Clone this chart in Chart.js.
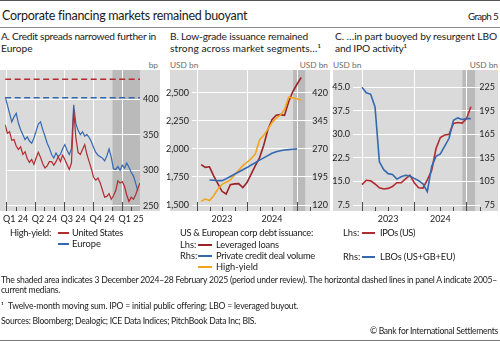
<!DOCTYPE html>
<html>
<head>
<meta charset="utf-8">
<script src="https://cdn.jsdelivr.net/npm/chart.js@4/dist/chart.umd.min.js"></script>
<style>
html, body { margin: 0; padding: 0; background: #fff; }
body { width: 500px; height: 341px; position: relative; overflow: hidden; font-family: Lato, "Open Sans", sans-serif; color: #1a1a1a; }
.t { position: absolute; white-space: nowrap; line-height: 1; }
.unit { font-size: 8.3px; color: #6b6b6b; }
.ptitle { font-size: 10.2px; line-height: 12.3px; }
.leg { font-size: 9.3px; }
.foot { font-size: 8.6px; }
.rule { position: absolute; left: 0; width: 500px; height: 1px; }
.sw { position: absolute; height: 2px; }
canvas { position: absolute; }
</style>
</head>
<body>
<div class="rule" style="top:0;background:#555"></div>
<div class="t" style="left:2px;top:10px;font-size:12.5px" data-w="245">Corporate financing markets remained buoyant</div>
<div class="t" style="left:468px;top:12px;font-size:9.8px" data-w="30">Graph 5</div>
<div class="rule" style="top:27px;background:#8c8c8c"></div>

<div class="t ptitle" style="left:1px;top:30px" data-w="155">A. Credit spreads narrowed further in</div>
<div class="t ptitle" style="left:1px;top:42.3px">Europe</div>
<div class="t ptitle" style="left:170px;top:30px" data-w="138">B. Low-grade issuance remained</div>
<div class="t ptitle" style="left:170px;top:42.3px" data-w="151">strong across market segments…¹</div>
<div class="t ptitle" style="left:335px;top:30px" data-w="162">C. …in part buoyed by resurgent LBO</div>
<div class="t ptitle" style="left:335px;top:42.3px" data-w="72">and IPO activity¹</div>

<div class="t unit" style="right:342px;top:61px">bp</div>
<div class="t unit" style="left:170px;top:61px">USD bn</div>
<div class="t unit" style="right:172px;top:61px">USD bn</div>
<div class="t unit" style="left:333px;top:61px">USD bn</div>
<div class="t unit" style="right:2px;top:61px">USD bn</div>

<canvas id="chartA" width="165" height="170" style="left:0;top:60px"></canvas>
<canvas id="chartB" width="170" height="170" style="left:165px;top:60px"></canvas>
<canvas id="chartC" width="170" height="170" style="left:330px;top:60px"></canvas>

<div class="t leg" style="left:10px;top:228px" data-w="41">High-yield:</div>
<div class="sw" style="left:58px;width:11px;top:232px;background:#b32a2f"></div>
<div class="t leg" style="left:72px;top:228px" data-w="51">United States</div>
<div class="sw" style="left:58px;width:11px;top:243px;background:#3469b0"></div>
<div class="t leg" style="left:72px;top:239px">Europe</div>

<div class="t leg" style="left:180px;top:228px" data-w="133">US &amp; European corp debt issuance:</div>
<div class="t leg" style="left:180px;top:239.5px">Lhs:</div>
<div class="sw" style="left:198px;width:14px;top:243.5px;background:#9b2226"></div>
<div class="t leg" style="left:216px;top:239.5px" data-w="63">Leveraged loans</div>
<div class="t leg" style="left:180px;top:251px">Rhs:</div>
<div class="sw" style="left:198px;width:14px;top:255px;background:#3469b0"></div>
<div class="t leg" style="left:216px;top:251px" data-w="99">Private credit deal volume</div>
<div class="sw" style="left:198px;width:14px;top:265.5px;background:#f2a51d"></div>
<div class="t leg" style="left:216px;top:261.5px">High-yield</div>

<div class="t leg" style="left:343px;top:228px">Lhs:</div>
<div class="sw" style="left:362px;width:13px;top:232px;background:#b32a2f"></div>
<div class="t leg" style="left:380px;top:228px" data-w="35">IPOs (US)</div>
<div class="t leg" style="left:343px;top:252px">Rhs:</div>
<div class="sw" style="left:362px;width:13px;top:256px;background:#3469b0"></div>
<div class="t leg" style="left:380px;top:252px" data-w="75">LBOs (US+GB+EU)</div>

<div class="t foot" style="left:1px;top:275.5px" data-w="496">The shaded area indicates 3 December 2024–28 February 2025 (period under review). The horizontal dashed lines in panel A indicate 2005–</div>
<div class="t foot" style="left:1px;top:285.5px" data-w="59">current medians.</div>
<div class="t foot" style="left:1px;top:302px">¹</div>
<div class="t foot" style="left:8px;top:302px" data-w="290">Twelve-month moving sum. IPO = initial public offering; LBO = leveraged buyout.</div>
<div class="t foot" style="left:1px;top:316.5px" data-w="255">Sources: Bloomberg; Dealogic; ICE Data Indices; PitchBook Data Inc; BIS.</div>
<div class="t foot" style="right:2px;top:327px" data-w="128">© Bank for International Settlements</div>
<div class="rule" style="top:340px;background:#777"></div>

<script>
// Panel A: high-yield option-adjusted spreads, weekly, bp
const spreadStart = '2023-12-29';
const usSpread = [364, 352, 354, 342, 343, 334, 329, 333, 322, 326, 316, 311, 315, 308, 317, 325, 318, 309, 303, 306,
    312, 312, 307, 312, 319, 312, 321, 315, 308, 301, 310, 385, 345, 325, 322, 329, 336, 322, 312, 302,
    290, 286, 289, 282, 272, 262, 263, 267, 259, 264, 271, 285, 282, 284, 277, 265, 256, 262, 259, 265, 274, 282];
const euSpread = [403, 392, 380, 368, 375, 380, 366, 357, 350, 343, 347, 341, 338, 345, 355, 365, 368, 357, 348, 338,
    331, 322, 317, 324, 319, 322, 330, 336, 328, 322, 330, 392, 365, 356, 350, 354, 348, 350, 346, 340,
    332, 325, 321, 319, 317, 313, 320, 330, 318, 302, 301, 305, 300, 307, 303, 310, 304, 297, 292, 282, 271];
const usMedian = 428;
const euMedian = 402;
const spreadTicks = [250, 300, 350, 400];
const quarterStarts = ['2024-01-01', '2024-04-01', '2024-07-01', '2024-10-01', '2025-01-01'];
const quarterLabels = ['Q1 24', 'Q2 24', 'Q3 24', 'Q4 24', 'Q1 25'];

// Panel B: US & European corporate debt issuance, twelve-month sums, USD bn
const issuanceMonths = ['2023-02', '2023-03', '2023-04', '2023-05', '2023-06', '2023-07', '2023-08', '2023-09',
    '2023-10', '2023-11', '2023-12', '2024-01', '2024-02', '2024-03', '2024-04', '2024-05', '2024-06', '2024-07',
    '2024-08', '2024-09', '2024-10', '2024-11', '2024-12', '2025-01', '2025-02'];
const leveragedLoans = [1860, 1835, 1840, 1760, 1690, 1622, 1598, 1680, 1688, 1690, 1655, 1700, 1775, 1850,
    1920, 2030, 2170, 2260, 2300, 2305, 2298, 2420, 2510, 2575, 2635];
const privateCredit = [null, null, 187, 186, 185, 185, 190, 196, 202, 208, 214, 220, 227, 233, 240, 246, 252,
    258, 262, 265, 267, 268, 269, 270, null];
const highYield = [130, 136, 132, 145, 162, 175, 181, 187, 200, 213, 225, 234, 244, 256, 293, 306, 322, 340,
    352, 360, 375, 408, 406, 404, 400];
const issuanceLhsTicks = [1500, 1750, 2000, 2250, 2500];
const issuanceRhsTicks = [120, 195, 270, 345, 420];

// Panel C: IPOs and LBOs, twelve-month sums, USD bn
const dealMonths = ['2023-01', '2023-02', '2023-03', '2023-04', '2023-05', '2023-06', '2023-07', '2023-08',
    '2023-09', '2023-10', '2023-11', '2023-12', '2024-01', '2024-02', '2024-03', '2024-04', '2024-05', '2024-06',
    '2024-07', '2024-08', '2024-09', '2024-10', '2024-11', '2024-12', '2025-01', '2025-02'];
const ipos = [14.0, 15.4, 15.2, 14.2, 13.0, 12.6, 12.8, 13.4, 14.6, 14.6, 15.8, 17.0, 14.6, 13.0, 12.9, 15.5,
    18.5, 25.5, 29.0, 29.8, 30.0, 33.5, 33.8, 33.6, 35.0, 38.8];
const lbos = [225, 218, 216, 200, 130, 120, 115, 114, 108, 111, 113, 112, 109, 106, 102, 92, 124, 137, 140,
    150, 160, 183, 186, 184, 185, 185];
const dealLhsTicks = [7.5, 15, 22.5, 30, 37.5, 45];
const dealRhsTicks = [75, 105, 135, 165, 195, 225];

const yearLabels = ['2023', '2024'];
const reviewStart = '2024-12-03';
const reviewEnd = '2025-02-28';

const RED = '#b32a2f', DARKRED = '#9b2226', BLUE = '#3469b0', ORANGE = '#f2a51d';
const PLOT_BG = '#dadada', SHADE = '#bababa';

const DAY = 86400000;
// days since 1 Jan 2024 (panel A x axis)
const dayOf = s => (Date.parse(s) - Date.parse('2024-01-01')) / DAY;
// months since Jan 2023, fractional within the month (panels B and C)
function monthOf(s) {
    const [y, m, d] = s.split('-').map(Number);
    const days = new Date(Date.UTC(y, m, 0)).getUTCDate();
    return (y - 2023) * 12 + (m - 1) + ((d || 1) - 1) / days;
}

Chart.defaults.font.family = 'Lato, "Open Sans", sans-serif';
Chart.defaults.font.size = 9;
Chart.defaults.color = '#222';

// grey plot box, review-period band, vertical grid and inside tick marks
const panelBackdrop = {
    id: 'panelBackdrop',
    beforeDraw(chart, args, opts) {
        const { ctx, chartArea: a } = chart;
        const x = chart.scales.x;
        ctx.save();
        ctx.fillStyle = PLOT_BG;
        ctx.fillRect(opts.left, a.top, opts.right - opts.left, a.bottom - a.top);
        const s0 = x.getPixelForValue(opts.shadeFrom);
        const s1 = x.getPixelForValue(opts.shadeTo);
        ctx.fillStyle = SHADE;
        ctx.fillRect(s0, a.top, s1 - s0, a.bottom - a.top);
        ctx.strokeStyle = '#fff';
        ctx.lineWidth = 1;
        opts.major.forEach(v => {
            if (v < x.min || v > x.max) return;
            const px = Math.round(x.getPixelForValue(v)) + 0.5;
            ctx.beginPath();
            ctx.moveTo(px, a.top);
            ctx.lineTo(px, a.bottom);
            ctx.stroke();
        });
        ctx.restore();
    },
    afterDatasetsDraw(chart, args, opts) {
        const { ctx, chartArea: a } = chart;
        const x = chart.scales.x;
        ctx.save();
        ctx.strokeStyle = '#4a4a4a';
        ctx.lineWidth = 1;
        const mark = (v, len) => {
            if (v < x.min || v > x.max) return;
            const px = Math.round(x.getPixelForValue(v)) + 0.5;
            ctx.beginPath();
            ctx.moveTo(px, a.bottom);
            ctx.lineTo(px, a.bottom - len);
            ctx.stroke();
        };
        opts.major.forEach(v => mark(v, 9));
        opts.minor.forEach(v => mark(v, 4));
        ctx.restore();
    }
};

function fixedTicks(values) {
    return scale => { scale.ticks = values.map(v => ({ value: v })); };
}

function xAxis(min, max, labelAt, labels) {
    return {
        type: 'linear', min: min, max: max,
        afterBuildTicks: fixedTicks(labelAt),
        afterFit: scale => { scale.height = 19; },
        grid: { display: false, drawTicks: false },
        border: { display: false },
        ticks: { callback: (v, i) => labels[i], autoSkip: false, maxRotation: 0, padding: 3, font: { size: 9 } }
    };
}

function yAxis(position, min, max, values, width, format, showGrid, crossAlign) {
    return {
        type: 'linear', position: position, min: min, max: max,
        afterBuildTicks: fixedTicks(values),
        afterFit: scale => { scale.width = width; },
        grid: { display: showGrid, color: '#fff', lineWidth: 1, drawTicks: false },
        border: { display: false },
        ticks: { callback: format, padding: 3, crossAlign: crossAlign || 'near', font: { size: 9 } }
    };
}

function line(points, color, width, axis, dash) {
    return {
        data: points, borderColor: color, borderWidth: width, yAxisID: axis,
        borderDash: dash || [], pointRadius: 0, tension: 0, fill: false
    };
}

const toPoints = (xs, ys) => xs.map((x, i) => ({ x: x, y: ys[i] })).filter(p => p.y !== null);

function baseOptions(padding, scales, backdrop) {
    return {
        responsive: false, animation: false, events: [],
        layout: { padding: padding },
        plugins: { legend: { display: false }, tooltip: { enabled: false }, panelBackdrop: backdrop },
        scales: scales
    };
}

function createSpreadChart() {
    const minDay = dayOf(spreadStart), maxDay = dayOf(reviewEnd);
    const days = usSpread.map((_, i) => minDay + 7 * i);
    const qStarts = quarterStarts.map(dayOf);
    // quarter names sit about a month into each quarter
    const labelDays = qStarts.map(d => d + 30);
    const monthStarts = [];
    for (let m = 1; m <= 14; m++) {
        const d = new Date(Date.UTC(2024, m, 1)).toISOString().slice(0, 10);
        monthStarts.push(dayOf(d));
    }
    return new Chart(document.getElementById('chartA'), {
        type: 'line',
        data: {
            datasets: [
                line([{ x: minDay, y: usMedian }, { x: maxDay, y: usMedian }], RED, 1.5, 'y', [6, 3.5]),
                line([{ x: minDay, y: euMedian }, { x: maxDay, y: euMedian }], BLUE, 1.5, 'y', [6, 3.5]),
                line(toPoints(days, usSpread), RED, 1.2, 'y'),
                line(toPoints(days, euSpread), BLUE, 1.2, 'y')
            ]
        },
        options: baseOptions({ top: 10, left: 0, right: 0, bottom: 0 }, {
            x: xAxis(minDay, maxDay, labelDays, quarterLabels),
            y: yAxis('right', 242.5, 441, spreadTicks, 25, v => v, true)
        }, {
            left: 0, right: 160,
            shadeFrom: dayOf(reviewStart), shadeTo: maxDay,
            major: qStarts, minor: monthStarts
        }),
        plugins: [panelBackdrop]
    });
}

function createIssuanceChart() {
    const months = issuanceMonths.map(monthOf);
    return new Chart(document.getElementById('chartB'), {
        type: 'line',
        data: {
            datasets: [
                line(toPoints(months, privateCredit), BLUE, 1.6, 'y2'),
                line(toPoints(months, highYield), ORANGE, 1.6, 'y2'),
                line(toPoints(months, leveragedLoans), DARKRED, 1.6, 'y')
            ]
        },
        options: baseOptions({ top: 10, left: 0, right: 7, bottom: 0 }, {
            x: xAxis(-1.2, 27.6, [6, 18], yearLabels),
            y: yAxis('left', 1446.6, 2702, issuanceLhsTicks, 27, v => v.toLocaleString('en-US'), true),
            y2: yAxis('right', 104, 480.6, issuanceRhsTicks, 16, v => v, false, 'far')
        }, {
            left: 5, right: 165,
            shadeFrom: monthOf(reviewStart), shadeTo: monthOf(reviewEnd),
            major: [0, 12, 24], minor: [3, 6, 9, 15, 18, 21, 27]
        }),
        plugins: [panelBackdrop]
    });
}

function createDealChart() {
    const months = dealMonths.map(monthOf);
    return new Chart(document.getElementById('chartC'), {
        type: 'line',
        data: {
            datasets: [
                line(toPoints(months, lbos), BLUE, 1.6, 'y2'),
                line(toPoints(months, ipos), RED, 1.6, 'y')
            ]
        },
        options: baseOptions({ top: 10, left: 0, right: 5, bottom: 0 }, {
            x: xAxis(-2.06, 27.1, [6, 18], yearLabels),
            y: yAxis('left', 5.6, 50.5, dealLhsTicks, 23, v => v.toFixed(1), true),
            y2: yAxis('right', 67.4, 247, dealRhsTicks, 15, v => v, false, 'far')
        }, {
            left: 3, right: 168,
            shadeFrom: monthOf(reviewStart), shadeTo: monthOf(reviewEnd),
            major: [0, 12, 24], minor: [3, 6, 9, 15, 18, 21, 27]
        }),
        plugins: [panelBackdrop]
    });
}

// squeeze or stretch letter spacing so each text line keeps its column width
function fitText() {
    document.querySelectorAll('[data-w]').forEach(el => {
        const target = Number(el.dataset.w);
        const natural = el.getBoundingClientRect().width;
        const n = el.textContent.length;
        el.style.letterSpacing = ((target - natural) / n).toFixed(3) + 'px';
    });
}

document.fonts.load('10px Lato').then(() => {
    fitText();
    createSpreadChart();
    createIssuanceChart();
    createDealChart();
});
</script>
</body>
</html>
